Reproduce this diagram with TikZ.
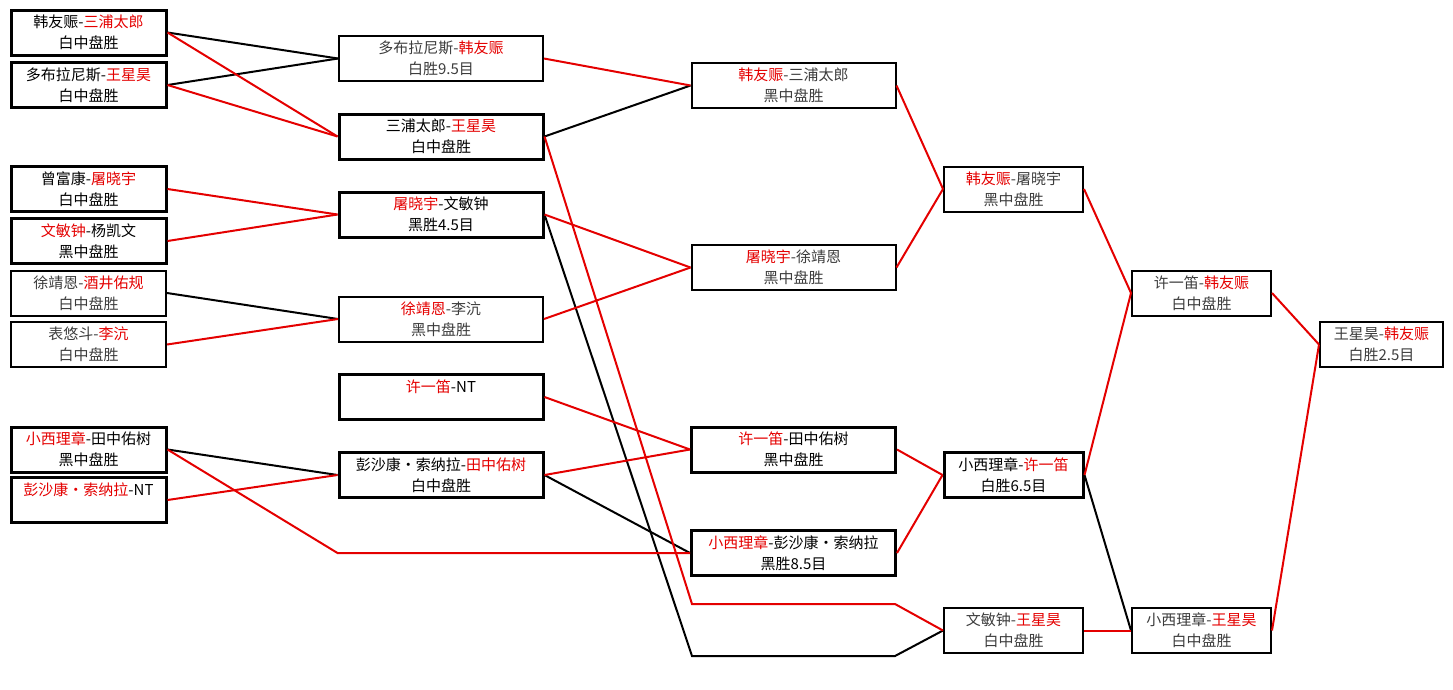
\documentclass[tikz,border=0pt]{standalone}
\usepackage{fontspec}
\setmainfont{Noto Sans CJK SC}
\definecolor{winred}{RGB}{228,0,0}
\definecolor{plaingray}{RGB}{60,60,60}
\newcommand{\win}[1]{\textcolor{winred}{#1}}
\tikzset{
  game/.style={draw, line width=2pt, minimum height=45pt, inner sep=0pt,
    align=center, font=\fontsize{15}{21}\selectfont, text=plaingray},
  heavy/.style={line width=3pt, text=black},
  r1/.style={minimum width=155pt},
  r2/.style={minimum width=204pt},
  r4/.style={minimum width=139pt},
  r6/.style={minimum width=123pt}
}
\begin{document}
\begin{tikzpicture}[x=1pt, y=-1pt]
      \useasboundingbox (0,0) rectangle (1453,689);
      \draw
        (88.5,32.5) node[game,r1,heavy] (a1){韩友赈-\win{三浦太郎}\\白中盘胜}
        (88.5,85) node[game,r1,heavy] (a2){多布拉尼斯-\win{王星昊}\\白中盘胜}
        (88.5,189) node[game,r1,heavy] (a3){曾富康-\win{屠晓宇}\\白中盘胜}
        (88.5,241) node[game,r1,heavy] (a4){\win{文敏钟}-杨凯文\\黑中盘胜}
        (88.5,293) node[game,r1] (a5){徐靖恩-\win{酒井佑规}\\白中盘胜}
        (88.5,344.5) node[game,r1] (a6){表悠斗-\win{李沆}\\白中盘胜}
        (88.5,449.5) node[game,r1,heavy] (a7){\win{小西理章}-田中佑树\\黑中盘胜}
        (88.5,500) node[game,r1,heavy] (a8){\win{彭沙康・索纳拉}-NT\\\mbox{}}
        (441,58.5) node[game,r2] (b1){多布拉尼斯-\win{韩友赈}\\白胜9.5目}
        (441,136.5) node[game,r2,heavy] (b2){三浦太郎-\win{王星昊}\\白中盘胜}
        (441,214.5) node[game,r2,heavy] (b3){\win{屠晓宇}-文敏钟\\黑胜4.5目}
        (441,319) node[game,r2] (b4){\win{徐靖恩}-李沆\\黑中盘胜}
        (441,397) node[game,r2,heavy] (b5){\win{许一笛}-NT\\\mbox{}}
        (441,475) node[game,r2,heavy] (b6){彭沙康・索纳拉-\win{田中佑树}\\白中盘胜}
        (793.5,85.5) node[game,r2] (c1){\win{韩友赈}-三浦太郎\\黑中盘胜}
        (793.5,267.5) node[game,r2] (c2){\win{屠晓宇}-徐靖恩\\黑中盘胜}
        (793.5,449.5) node[game,r2,heavy] (c3){\win{许一笛}-田中佑树\\黑中盘胜}
        (793.5,553) node[game,r2,heavy] (c4){\win{小西理章}-彭沙康・索纳拉\\黑胜8.5目}
        (1013.5,189) node[game,r4] (d1){\win{韩友赈}-屠晓宇\\黑中盘胜}
        (1013.5,475) node[game,r4,heavy] (d2){小西理章-\win{许一笛}\\白胜6.5目}
        (1013.5,630.5) node[game,r4] (d3){文敏钟-\win{王星昊}\\白中盘胜}
        (1201.5,293) node[game,r4] (e1){许一笛-\win{韩友赈}\\白中盘胜}
        (1201.5,630.5) node[game,r4] (e2){小西理章-\win{王星昊}\\白中盘胜}
        (1381.5,344.5) node[game,r6] (f){王星昊-\win{韩友赈}\\白胜2.5目};
      \coordinate (up1) at (692,604);
      \coordinate (up2) at (895,604);
      \coordinate (dn1) at (692,656);
      \coordinate (dn2) at (895,656);
      \begin{scope}[line width=2pt]
        \draw (a1.east) to (b1.west);
        \draw (a2.east) to (b1.west);
        \draw (a5.east) to (b4.west);
        \draw (a7.east) to (b6.west);
        \draw (b2.east) to (c1.west);
        \draw (b6.east) to (c4.west);
        \draw (d2.east) to (e2.west);
        \draw (b3.east) -- (dn1) -- (dn2) -- (d3.west);
      \end{scope}
      \begin{scope}[line width=2pt, winred]
        \draw (a1.east) to (b2.west);
        \draw (a2.east) to (b2.west);
        \draw (a3.east) to (b3.west);
        \draw (a4.east) to (b3.west);
        \draw (a6.east) to (b4.west);
        \draw (a8.east) to (b6.west);
        \draw (a7.east) -- (b6.west |- c4.west) -- (c4.west);
        \draw (b1.east) to (c1.west);
        \draw (b3.east) to (c2.west);
        \draw (b4.east) to (c2.west);
        \draw (b5.east) to (c3.west);
        \draw (b6.east) to (c3.west);
        \draw (b2.east) -- (up1) -- (up2) -- (d3.west);
        \draw (c1.east) to (d1.west);
        \draw (c2.east) to (d1.west);
        \draw (c3.east) to (d2.west);
        \draw (c4.east) to (d2.west);
        \draw (d1.east) to (e1.west);
        \draw (d2.east) to (e1.west);
        \draw (d3.east) to (e2.west);
        \draw (e1.east) to (f.west);
        \draw (e2.east) to (f.west);
      \end{scope}
    \end{tikzpicture}
\end{document}
